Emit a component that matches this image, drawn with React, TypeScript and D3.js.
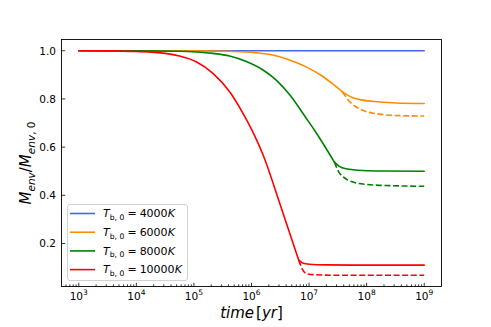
import React from "react";
import * as d3 from "d3";

// ---- data (log10 of time in yr, envelope mass fraction) ----
const tempLabels = ["4000", "6000", "8000", "10000"];
const colors = ["#4169e1", "#ff8c00", "#008000", "#ff0000"];

const blueLogT = [3, 9];
const blueMass = [1, 1];

const orangeLogT = [3, 4, 5, 5.6, 5.8, 6.1, 6.37, 6.66, 6.95, 7.24, 7.4, 7.58];
const orangeMass = [1, 1, 0.9995, 0.998, 0.996, 0.991, 0.982, 0.962, 0.933, 0.893, 0.864, 0.829];
const orangeSolidLogT = [7.58, 7.75, 7.93, 8.2, 8.51, 9];
const orangeSolidMass = [0.829, 0.806, 0.795, 0.788, 0.783, 0.781];
const orangeDashLogT = [7.58, 7.7, 7.93, 8.22, 8.51, 9];
const orangeDashMass = [0.829, 0.79, 0.753, 0.737, 0.731, 0.729];

const greenLogT = [3, 4, 4.75, 5.05, 5.33, 5.62, 5.91, 6.2, 6.43, 6.66, 6.95, 7.1, 7.25, 7.44];
const greenMass = [1, 0.9995, 0.998, 0.995, 0.989, 0.978, 0.955, 0.92, 0.878, 0.818, 0.72, 0.668, 0.612, 0.5375];
const greenSolidLogT = [7.44, 7.52, 7.64, 7.93, 8.3, 9];
const greenSolidMass = [0.5375, 0.521, 0.51, 0.503, 0.501, 0.5];
const greenDashLogT = [7.44, 7.52, 7.6, 7.76, 8.0, 8.4, 9];
const greenDashMass = [0.5375, 0.495, 0.475, 0.455, 0.445, 0.44, 0.4375];

const redLogT = [3, 3.5, 4, 4.5, 4.75, 5.04, 5.33, 5.62, 5.91, 6.05, 6.2, 6.5, 6.82];
const redMass = [1, 0.9995, 0.997, 0.989, 0.978, 0.954, 0.906, 0.83, 0.715, 0.65, 0.568, 0.36, 0.131];
const redSolidLogT = [6.82, 6.9, 7.0, 7.3, 8, 9];
const redSolidMass = [0.131, 0.118, 0.114, 0.111, 0.11, 0.11];
const redDashLogT = [6.82, 6.88, 6.95, 7.12, 7.5, 9];
const redDashMass = [0.131, 0.095, 0.075, 0.07, 0.068, 0.068];

const xTickExps = [3, 4, 5, 6, 7, 8, 9];
const yTicks = [0.2, 0.4, 0.6, 0.8, 1.0];

type Pt = [number, number];
const zip = (t: number[], m: number[]): Pt[] => t.map((v, i) => [Math.pow(10, v), m[i]]);

const series = [
  { pre: zip(blueLogT, blueMass), solid: [] as Pt[], dash: [] as Pt[] },
  { pre: zip(orangeLogT, orangeMass), solid: zip(orangeSolidLogT, orangeSolidMass), dash: zip(orangeDashLogT, orangeDashMass) },
  { pre: zip(greenLogT, greenMass), solid: zip(greenSolidLogT, greenSolidMass), dash: zip(greenDashLogT, greenDashMass) },
  { pre: zip(redLogT, redMass), solid: zip(redSolidLogT, redSolidMass), dash: zip(redDashLogT, redDashMass) },
];

const W = 491, H = 327;
const L = 61.5, R = 441.5, T = 39.5, B = 286.5;
const FONT = "DejaVu Sans";

export default function App() {
  const allM = [...blueMass, ...orangeMass, ...orangeDashMass, ...greenMass, ...greenDashMass, ...redMass, ...redDashMass];
  const mMin = d3.min(allM)!, mMax = d3.max(allM)!;
  const pad = (mMax - mMin) * 0.05;
  const x = d3.scaleLog().domain([Math.pow(10, 2.7), Math.pow(10, 9.3)]).range([L, R]);
  const y = d3.scaleLinear().domain([mMin - pad, mMax + pad]).range([B, T]);
  const line = d3.line<Pt>().x(d => x(d[0])).y(d => y(d[1])).curve(d3.curveMonotoneX);

  const minor: number[] = [];
  for (let e = 2; e <= 9; e++) for (let s = 2; s <= 9; s++) {
    const v = s * Math.pow(10, e);
    if (v > x.domain()[0] && v < x.domain()[1]) minor.push(v);
  }

  const lw = 1.6;
  const legX = 67.5, legY = 204.5, legW = 120, legH = 76;
  const rowY = [213.5, 232.2, 250.9, 269.6];

  return (
    <svg width={W} height={H} style={{ position: "absolute", left: 0, top: 0, background: "#fff" }} fontFamily={FONT}>
      <rect width={W} height={H} fill="#fff" />
      <defs>
        <clipPath id="plot"><rect x={L} y={T} width={R - L} height={B - T} /></clipPath>
      </defs>
      <g clipPath="url(#plot)" fill="none" strokeWidth={lw}>
        {series.map((s, i) => (
          <g key={i} stroke={colors[i]}>
            <path d={line(s.pre)!} strokeLinecap="round" strokeLinejoin="round" />
            {s.solid.length > 0 && <path d={line(s.solid)!} strokeLinecap="round" strokeLinejoin="round" />}
            {s.dash.length > 0 && <path d={line(s.dash)!} strokeDasharray="6,2.6" />}
          </g>
        ))}
      </g>
      {/* ticks */}
      <g stroke="#000" strokeWidth={0.8}>
        {xTickExps.map(e => <line key={e} x1={x(Math.pow(10, e))} x2={x(Math.pow(10, e))} y1={B} y2={B - 3.7} />)}
        {minor.map((v, i) => <line key={i} x1={x(v)} x2={x(v)} y1={B} y2={B - 2.1} />)}
        {yTicks.map(v => <line key={v} x1={L} x2={L + 3.7} y1={y(v)} y2={y(v)} />)}
      </g>
      <rect x={L} y={T} width={R - L} height={B - T} fill="none" stroke="#000" strokeWidth={0.9} />
      {/* x tick labels */}
      {xTickExps.map(e => (
        <text key={e} x={x(Math.pow(10, e))} y={299.5} fontSize={10.5} textAnchor="middle" fill="#000">
          10<tspan fontSize={7.5} dy={-4.5}>{e}</tspan>
        </text>
      ))}
      {yTicks.map(v => (
        <text key={v} x={56} y={y(v) + 3.8} fontSize={10.5} textAnchor="end" fill="#000">{v.toFixed(1)}</text>
      ))}
      {/* axis labels */}
      <text x={(L + R) / 2} y={318} fontSize={15} textAnchor="middle" fill="#000">
        <tspan fontStyle="italic">time</tspan><tspan dx={2}>[</tspan><tspan fontStyle="italic">yr</tspan><tspan>]</tspan>
      </text>
      <text transform={`translate(31,${(T + B) / 2}) rotate(-90)`} fontSize={15} textAnchor="middle" fill="#000">
        <tspan fontStyle="italic">M</tspan>
        <tspan fontStyle="italic" fontSize={10.5} dy={3.5}>env</tspan>
        <tspan dy={-3.5}>/</tspan>
        <tspan fontStyle="italic">M</tspan>
        <tspan fontStyle="italic" fontSize={10.5} dy={3.5}>env</tspan>
        <tspan fontSize={10.5}>, 0</tspan>
      </text>
      {/* legend */}
      <rect x={legX} y={legY} width={legW} height={legH} rx={2.5} fill="#fff" fillOpacity={0.8} stroke="#cccccc" strokeWidth={0.9} />
      {tempLabels.map((t, i) => (
        <g key={t}>
          <line x1={70} x2={95} y1={rowY[i]} y2={rowY[i]} stroke={colors[i]} strokeWidth={lw} />
          <text x={103} y={rowY[i] + 3.8} fontSize={11} fill="#000">
            <tspan fontStyle="italic">T</tspan>
            <tspan fontSize={7.7} dy={2.5}>b, 0</tspan>
            <tspan dy={-2.5} dx={3}>=</tspan>
            <tspan dx={3}>{t}</tspan>
            <tspan fontStyle="italic">K</tspan>
          </text>
        </g>
      ))}
    </svg>
  );
}
